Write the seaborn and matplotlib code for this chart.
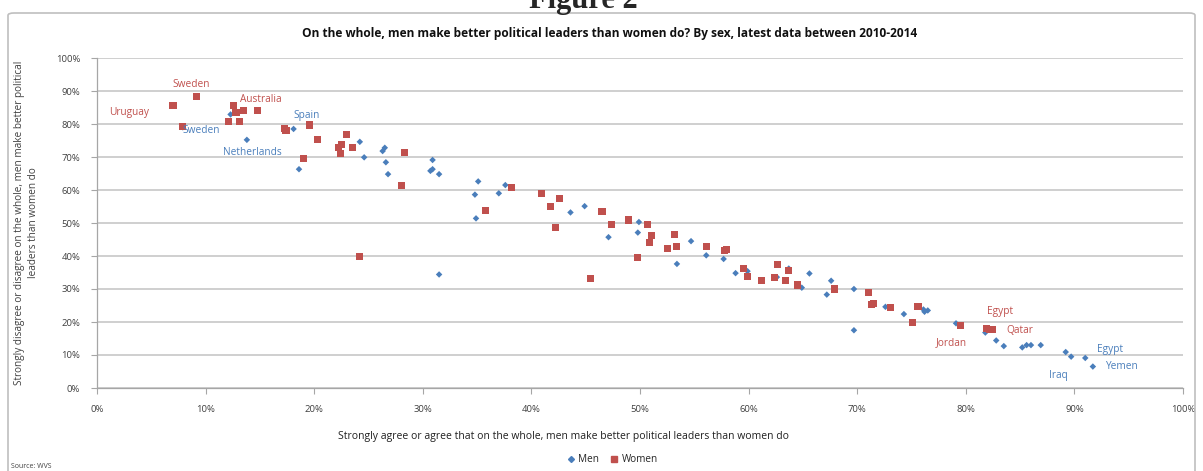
import numpy as np
import pandas as pd
import matplotlib
matplotlib.use('Agg')
import matplotlib.pyplot as plt
from matplotlib.lines import Line2D
from matplotlib.patches import FancyBboxPatch
import seaborn as sns

# share agreeing (x) vs share disagreeing (y), in percent
men_x = [7.9, 12.3, 13.8, 18.1, 18.6, 24.2, 24.6, 26.5, 26.3, 26.6, 26.8, 30.9, 30.7, 30.9,
         31.5, 31.5, 35.1, 34.8, 34.9, 37.0, 37.6, 43.6, 44.9, 47.1, 49.9, 49.8, 53.4, 54.7,
         56.1, 57.7, 58.8, 59.9, 62.6, 63.7, 64.9, 65.6, 67.2, 67.6, 69.7, 69.7, 72.6, 74.3,
         76.1, 76.2, 76.5, 79.1, 81.8, 82.8, 83.5, 85.2, 85.6, 86.0, 86.9, 89.2, 89.7, 91.0, 91.7]
men_y = [79.0, 82.9, 75.2, 78.5, 66.3, 74.6, 69.9, 72.8, 71.8, 68.4, 64.8, 69.1, 65.8, 66.3,
         64.8, 34.4, 62.6, 58.6, 51.4, 59.0, 61.5, 53.2, 55.1, 45.7, 50.3, 47.1, 37.6, 44.5,
         40.2, 39.1, 34.8, 35.4, 33.6, 36.2, 30.4, 34.7, 28.3, 32.5, 30.0, 17.5, 24.6, 22.4,
         23.8, 23.1, 23.5, 19.6, 16.8, 14.4, 12.7, 12.3, 13.0, 13.0, 13.0, 10.9, 9.5, 9.1, 6.5]

women_x = [7.0, 9.2, 7.9, 12.6, 12.8, 13.5, 14.8, 12.1, 13.1, 17.3, 17.4, 19.6, 20.3, 19.0,
           22.2, 23.0, 22.5, 22.4, 23.5, 28.3, 28.0, 24.2, 35.8, 38.2, 40.9, 42.6, 41.8, 42.2,
           46.5, 47.4, 48.9, 50.7, 51.1, 50.9, 53.2, 52.5, 53.4, 49.8, 45.4, 56.1, 57.8, 58.0,
           59.5, 59.9, 61.2, 62.4, 62.7, 63.7, 63.4, 64.5, 67.9, 71.0, 71.3, 71.5, 73.1, 75.1,
           75.6, 79.5, 81.9, 82.2, 82.5]
women_y = [85.5, 88.3, 79.2, 85.5, 83.5, 84.2, 84.2, 80.7, 80.7, 78.7, 78.0, 79.7, 75.2, 69.5,
           72.9, 76.8, 73.9, 71.1, 72.8, 71.3, 61.5, 39.8, 53.9, 60.7, 59.0, 57.5, 54.9, 48.6,
           53.5, 49.6, 50.9, 49.6, 46.1, 44.2, 46.4, 42.3, 43.0, 39.5, 33.3, 43.0, 41.6, 41.9,
           36.3, 33.9, 32.6, 33.6, 37.3, 35.5, 32.6, 31.2, 30.0, 29.0, 25.4, 25.7, 24.3, 19.9,
           24.6, 18.9, 18.1, 17.6, 17.6]

# country call-outs
label_text = ['Sweden', 'Uruguay', 'Australia', 'Spain', 'Sweden', 'Netherlands',
              'Egypt', 'Qatar', 'Jordan', 'Egypt', 'Yemen', 'Iraq']
label_x = [8.7, 3.0, 15.1, 19.3, 9.6, 14.3, 83.2, 85.0, 78.7, 93.3, 94.3, 88.5]
label_y = [92.1, 83.6, 87.3, 82.7, 77.9, 71.5, 23.3, 17.3, 13.6, 11.8, 6.4, 3.9]
label_sex = ['Women', 'Women', 'Women', 'Men', 'Men', 'Men',
             'Women', 'Women', 'Women', 'Men', 'Men', 'Men']

ticks = [0, 10, 20, 30, 40, 50, 60, 70, 80, 90, 100]
tick_labels = [f'{t}%' for t in ticks]

colors = {'Men': '#4a7ebb', 'Women': '#c0504d'}

df = pd.concat([
    pd.DataFrame({'x': men_x, 'y': men_y, 'Sex': 'Men'}),
    pd.DataFrame({'x': women_x, 'y': women_y, 'Sex': 'Women'}),
], ignore_index=True)

sns.set_style('white')
plt.rcParams['font.family'] = ['Open Sans', 'DejaVu Sans']

fig = plt.figure(figsize=(12.03, 4.71), dpi=100)
ax = fig.add_axes([97 / 1203, 1 - 388 / 471, (1183 - 97) / 1203, (388 - 58) / 471])

sns.scatterplot(data=df, x='x', y='y', hue='Sex', style='Sex', size='Sex',
                markers={'Men': 'D', 'Women': 's'}, sizes={'Men': 11, 'Women': 26},
                palette=colors, linewidth=0, legend=False, ax=ax, zorder=3)

for t, x, y, s in zip(label_text, label_x, label_y, label_sex):
    ax.text(x, y, t, color=colors[s], fontsize=7.3, ha='center', va='center')

ax.set_xlim(0, 100)
ax.set_ylim(0, 100)
ax.set_xticks(ticks)
ax.set_yticks(ticks)
ax.set_xticklabels(tick_labels, fontsize=6.8, color='#404040')
ax.set_yticklabels(tick_labels, fontsize=6.8, color='#404040')
ax.tick_params(axis='both', length=4, width=0.8, color='#a6a6a6', direction='out', pad=8)
ax.tick_params(axis='x', bottom=True)
ax.tick_params(axis='y', left=True)
ax.grid(axis='y', color='#cfcfcf', linewidth=1.4)
ax.set_axisbelow(True)
for sp in ['top', 'right']:
    ax.spines[sp].set_visible(False)
for sp in ['left', 'bottom']:
    ax.spines[sp].set_color('#a6a6a6')
    ax.spines[sp].set_linewidth(0.9)
ax.set_xlabel('')
ax.set_ylabel('Strongly disagree or disagree on the whole, men make better political\nleaders than women do',
              fontsize=7.2, color='#404040', labelpad=12, linespacing=1.45)

fig.text(564 / 1203, 1 - 436 / 471,
         'Strongly agree or agree that on the whole, men make better political leaders than women do',
         fontsize=7.5, color='#202020', ha='center', va='center')
fig.text(610 / 1203, 1 - 33 / 471,
         'On the whole, men make better political leaders than women do? By sex, latest data between 2010-2014',
         fontsize=8.6, fontweight='bold', color='#101010', ha='center', va='center')
fig.text(11 / 1203, 1 - 466 / 471, 'Source: WVS', fontsize=5, color='#404040', ha='left', va='center')
fig.text(583 / 1203, 1 - 8 / 471, 'Figure 2', fontsize=22, fontweight='bold',
         family='Liberation Serif', ha='center', va='baseline')

handles = [Line2D([], [], marker='D', color=colors['Men'], linestyle='', markersize=3),
           Line2D([], [], marker='s', color=colors['Women'], linestyle='', markersize=4.5)]
fig.legend(handles, ['Men', 'Women'], loc='center', bbox_to_anchor=(612 / 1203, 1 - 460 / 471),
           ncol=2, frameon=False, fontsize=7.2, handletextpad=0.2, columnspacing=1.0,
           handlelength=1.0)

frame = FancyBboxPatch((8 / 1203, -0.05), 1187 / 1203, 1 - 13 / 471 + 0.05,
                       boxstyle='round,pad=0,rounding_size=0.005', transform=fig.transFigure,
                       facecolor='none', edgecolor='#bfbfbf', linewidth=1.2)
fig.patches.append(frame)

fig.savefig('out.png', dpi=100)
